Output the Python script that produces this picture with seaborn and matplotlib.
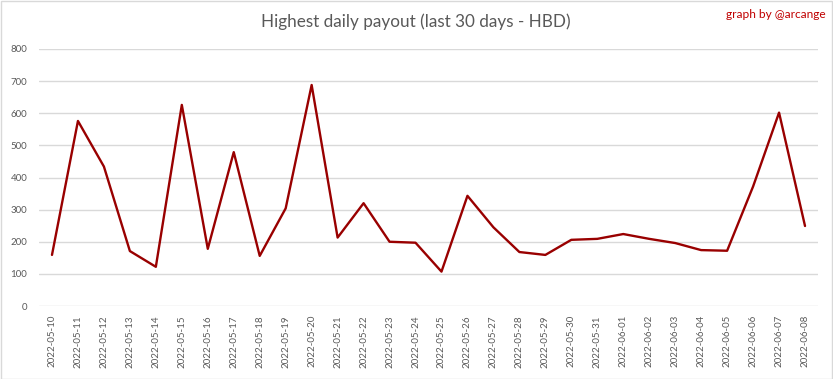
import numpy as np
import pandas as pd
import seaborn as sns
import matplotlib.pyplot as plt
from matplotlib.patches import Rectangle

# data
dates = ["2022-05-10", "2022-05-11", "2022-05-12", "2022-05-13", "2022-05-14",
         "2022-05-15", "2022-05-16", "2022-05-17", "2022-05-18", "2022-05-19",
         "2022-05-20", "2022-05-21", "2022-05-22", "2022-05-23", "2022-05-24",
         "2022-05-25", "2022-05-26", "2022-05-27", "2022-05-28", "2022-05-29",
         "2022-05-30", "2022-05-31", "2022-06-01", "2022-06-02", "2022-06-03",
         "2022-06-04", "2022-06-05", "2022-06-06", "2022-06-07", "2022-06-08"]
payout = [159, 576, 434, 171, 122, 626, 178, 479, 156, 304,
          688, 213, 320, 200, 197, 107, 343, 245, 168, 159,
          206, 209, 224, 209, 196, 174, 172, 372, 602, 249]
y_ticks = [0, 100, 200, 300, 400, 500, 600, 700, 800]

df = pd.DataFrame({"date": dates, "payout": payout})

sns.set_theme(style="white")
plt.rcParams["font.family"] = ["Lato", "DejaVu Sans"]

fig = plt.figure(figsize=(8.33, 3.79), dpi=100)
ax = fig.add_axes([39 / 833, 1 - 306 / 379, (818 - 39) / 833, (306 - 49) / 379])

sns.lineplot(data=df, x="date", y="payout", ax=ax, color="#990000", linewidth=1.7)

ax.set_xlim(-0.5, len(dates) - 0.5)
ax.set_ylim(0, 800)
ax.set_yticks(y_ticks)
ax.grid(axis="y", color="#d9d9d9", linewidth=1)
ax.set_axisbelow(True)
for s in ax.spines.values():
    s.set_visible(False)
ax.set_xlabel("")
ax.set_ylabel("")
ax.tick_params(axis="x", rotation=90, labelsize=7, colors="#595959", length=0, pad=6.5)
ax.tick_params(axis="y", labelsize=7, colors="#595959", length=0, pad=8.5)

fig.text(416 / 833, 1 - 22 / 379, "Highest daily payout (last 30 days - HBD)",
         ha="center", va="center", fontsize=12.3, color="#595959")
fig.text(826 / 833, 1 - 14 / 379, "graph by @arcange", ha="right", va="center",
         fontsize=8.6, color="#c00000")

fig.patches.append(Rectangle((0.5 / 833, 0.5 / 379), 1 - 1.5 / 833, 1 - 1.5 / 379,
                             transform=fig.transFigure, fill=False,
                             edgecolor="#d9d9d9", linewidth=1))

fig.savefig("out.png", dpi=100)
